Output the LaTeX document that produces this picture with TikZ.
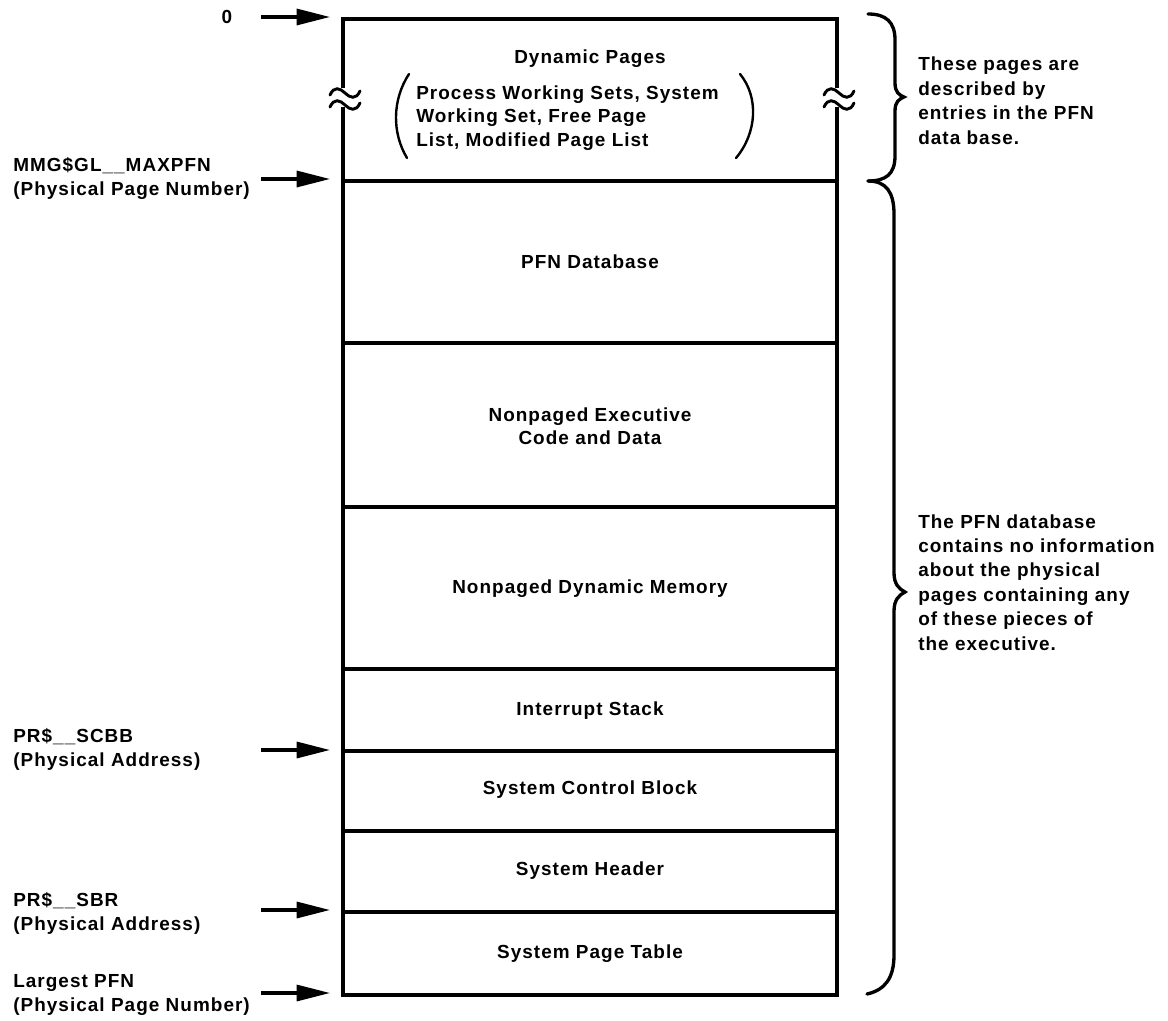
\documentclass[tikz,border=0pt]{standalone}
\usepackage{fontspec}
\setmainfont{Liberation Sans}[LetterSpace=5.5]
\usetikzlibrary{arrows.meta}

\begin{document}
\begin{tikzpicture}[x=0.75pt,y=-0.75pt,
  txt/.style={font=\fontsize{14.2}{17.4}\selectfont\bfseries, inner sep=0pt},
  sidetxt/.style={txt, align=left, font=\fontsize{14.2}{18.3}\selectfont\bfseries},
  wall/.style={line width=2.6pt, line join=miter},
  divider/.style={line width=2.4pt},
  ptr/.style={line width=2.4pt, -{Triangle[length=25pt,width=12pt]}},
  brc/.style={line width=2.5pt, line cap=round},
  paren/.style={line width=1.8pt, line cap=round},
  brk/.pic={\draw[line width=2.2pt, line cap=round]
      (-15,2) .. controls (-11,-7) and (-5,-5) .. (0,0)
      .. controls (5,5) and (11,7) .. (15,-2);}
  ]
\useasboundingbox (0,0) rectangle (1168,1021);

% region boundaries of the memory column
\coordinate (b0) at (343,19);
\coordinate (b1) at (343,181);
\coordinate (b2) at (343,343);
\coordinate (b3) at (343,507);
\coordinate (b4) at (343,669);
\coordinate (b5) at (343,751);
\coordinate (b6) at (343,831);
\coordinate (b7) at (343,912);
\coordinate (b8) at (343,995);

% outer frame, broken on both sides in the dynamic page area
\draw[wall] (343,88) -- (b0) -- (837,19) -- (837,88);
\draw[wall] (343,107) -- (b8) -- (837,995) -- (837,107);
\pic at (345,93) {brk};
\pic at (345,105) {brk};
\pic at (839,93) {brk};
\pic at (839,105) {brk};

% dividers
\foreach \i in {1,...,7}
  \draw[divider] (b\i) -- ++(494,0);

% contents of each region
\node[txt, anchor=base] (dyn) at (590,63) {Dynamic Pages};
\node[txt, align=left, anchor=base west] (lists) at (416,146)
  {Process Working Sets, System\\Working Set, Free Page\\List, Modified Page List};
\draw[paren] (409,74) .. controls (392,100) and (392,133) .. (407,158);
\draw[paren] (740,74) .. controls (759,97) and (757,133) .. (736,158);
\node[txt] (pfndb) at (590,262) {PFN Database};
\node[txt, align=center] (npcode) at (590,426) {Nonpaged Executive\\Code and Data};
\node[txt] (npdyn) at (590,589) {Nonpaged Dynamic Memory};
\node[txt] (intstk) at (590,711) {Interrupt Stack};
\node[txt] (scb) at (590,790) {System Control Block};
\node[txt] (syshdr) at (590,871) {System Header};
\node[txt] (spt) at (590,954) {System Page Table};

% pointers on the left
\node[txt, anchor=base] (l0) at (227,23) {0};
\node[txt, align=left, anchor=base west] (lmax) at (13,195)
  {MMG\$GL\_\_MAXPFN\\(Physical Page Number)};
\node[txt, align=left, anchor=base west] (lscbb) at (13,766)
  {PR\$\_\_SCBB\\(Physical Address)};
\node[txt, align=left, anchor=base west] (lsbr) at (13,930)
  {PR\$\_\_SBR\\(Physical Address)};
\node[txt, align=left, anchor=base west] (lpfn) at (13,1011)
  {Largest PFN\\(Physical Page Number)};

\coordinate (s0) at (261,17);
\coordinate (s1) at (261,179);
\coordinate (s5) at (261,750);
\coordinate (s7) at (261,910);
\coordinate (s8) at (261,993);
\draw[ptr] (s0) -- (330,17);
\draw[ptr] (s1) -- (330,179);
\draw[ptr] (s5) -- (330,750);
\draw[ptr] (s7) -- (330,910);
\draw[ptr] (s8) -- (330,993);

% braces and their notes
\draw[brc] (868,14) .. controls (886,14) and (895,22) .. (895,40) -- (895,83)
  .. controls (895,92) and (899,95) .. (904,97)
  .. controls (899,99) and (895,102) .. (895,111) -- (895,156)
  .. controls (895,174) and (886,181) .. (868,181);
\draw[brc] (868,181) .. controls (886,181) and (894,192) .. (894,214) -- (894,573)
  .. controls (894,584) and (899,589) .. (905,592)
  .. controls (899,595) and (894,600) .. (894,611) -- (894,955)
  .. controls (894,978) and (885,990) .. (867,994);

\node[sidetxt, anchor=base west] (note1) at (918,144)
  {These pages are\\described by\\entries in the PFN\\data base.};
\node[sidetxt, anchor=base west] (note2) at (918,650)
  {The PFN database\\contains no information\\about the physical\\pages containing any\\of these pieces of\\the executive.};
\end{tikzpicture}
\end{document}
